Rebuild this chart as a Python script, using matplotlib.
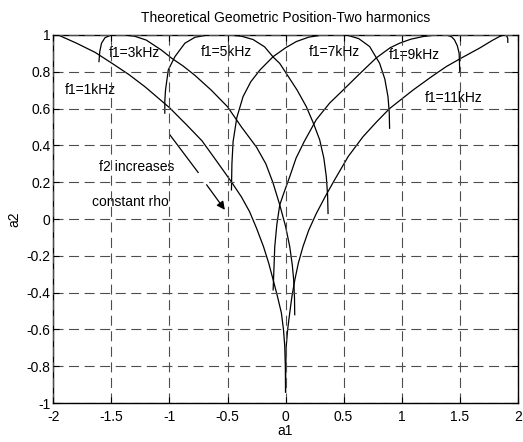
import matplotlib
matplotlib.use("Agg")
import matplotlib.pyplot as plt

# curves: (a1, a2) for each f1
a1_1k = [-1.96, -1.80, -1.64, -1.50, -1.35, -1.21, -1.00, -0.85, -0.72, -0.60, -0.47,
         -0.38, -0.31, -0.25, -0.19, -0.145, -0.107, -0.07, -0.036, -0.018, -0.007, -0.002, 0.0]
a2_1k = [1.00, 0.955, 0.905, 0.848, 0.785, 0.718, 0.605, 0.51, 0.425, 0.32, 0.205,
         0.12, 0.04, -0.05, -0.15, -0.24, -0.33, -0.42, -0.51, -0.60, -0.69, -0.80, -0.94]

a1_3k = [-1.607, -1.600, -1.585, -1.555, -1.50, -1.40, -1.30, -1.20, -1.07, -0.98, -0.88,
         -0.78, -0.64, -0.50, -0.38, -0.25, -0.17, -0.11, -0.05, 0.0, 0.036, 0.058, 0.07, 0.077, 0.079]
a2_3k = [0.855, 0.91, 0.955, 0.985, 1.0, 1.0, 0.993, 0.972, 0.918, 0.873, 0.83,
         0.78, 0.70, 0.61, 0.50, 0.39, 0.30, 0.20, 0.077, -0.04, -0.15, -0.25, -0.33, -0.43, -0.52]

a1_5k = [-1.04, -1.04, -1.034, -1.01, -0.953, -0.867, -0.781, -0.667, -0.50, -0.38, -0.28,
         -0.18, -0.107, -0.05, 0.007, 0.10, 0.179, 0.24, 0.294, 0.33, 0.351, 0.362, 0.366]
a2_5k = [0.575, 0.64, 0.70, 0.81, 0.882, 0.955, 0.987, 1.0, 1.0, 0.993, 0.975,
         0.935, 0.88, 0.845, 0.79, 0.70, 0.61, 0.52, 0.43, 0.33, 0.23, 0.13, 0.03]

a1_7k = [-0.466, -0.462, -0.452, -0.42, -0.366, -0.30, -0.22, -0.107, 0.0, 0.093, 0.20,
         0.323, 0.523, 0.63, 0.724, 0.81, 0.855, 0.882, 0.893, 0.896]
a2_7k = [0.158, 0.30, 0.42, 0.55, 0.665, 0.745, 0.81, 0.882, 0.93, 0.964, 0.988,
         1.0, 1.0, 0.98, 0.937, 0.846, 0.76, 0.665, 0.58, 0.493]

a1_9k = [-0.107, -0.10, -0.093, -0.075, -0.05, -0.01, 0.036, 0.09, 0.16, 0.265, 0.38,
         0.495, 0.64, 0.781, 0.90, 0.982, 1.08, 1.183, 1.30, 1.384, 1.43, 1.455, 1.48,
         1.495, 1.498, 1.50]
a2_9k = [-0.385, -0.27, -0.15, -0.03, 0.077, 0.15, 0.23, 0.33, 0.42, 0.54, 0.63,
         0.70, 0.79, 0.875, 0.93, 0.955, 0.977, 0.991, 1.0, 1.0, 0.99, 0.973, 0.94,
         0.90, 0.85, 0.80]

a1_11k = [0.0, 0.002, 0.006, 0.018, 0.036, 0.055, 0.08, 0.11, 0.15, 0.20, 0.265, 0.34,
          0.42, 0.54, 0.667, 0.78, 0.896, 1.097, 1.25, 1.384, 1.53, 1.67, 1.78, 1.842,
          1.88, 1.905, 1.914, 1.914]
a2_11k = [-0.94, -0.80, -0.69, -0.60, -0.51, -0.42, -0.33, -0.24, -0.15, -0.06, 0.03, 0.12,
          0.21, 0.34, 0.447, 0.525, 0.60, 0.70, 0.77, 0.828, 0.88, 0.928, 0.97, 0.991,
          1.0, 0.995, 0.98, 0.96]

curves = [(a1_1k, a2_1k), (a1_3k, a2_3k), (a1_5k, a2_5k),
          (a1_7k, a2_7k), (a1_9k, a2_9k), (a1_11k, a2_11k)]

labels = ["f1=1kHz", "f1=3kHz", "f1=5kHz", "f1=7kHz", "f1=9kHz", "f1=11kHz"]
label_x = [-1.90, -1.52, -0.73, 0.20, 0.89, 1.20]
label_y = [0.70, 0.90, 0.906, 0.906, 0.89, 0.656]

xticks = [-2, -1.5, -1, -0.5, 0, 0.5, 1, 1.5, 2]
xticklabels = ["-2", "-1.5", "-1", "-0.5", "0", "0.5", "1", "1.5", "2"]
yticks = [-1, -0.8, -0.6, -0.4, -0.2, 0, 0.2, 0.4, 0.6, 0.8, 1]
yticklabels = ["-1", "-0.8", "-0.6", "-0.4", "-0.2", "0", "0.2", "0.4", "0.6", "0.8", "1"]

plt.rcParams['font.family'] = ['Liberation Sans', 'DejaVu Sans']
plt.rcParams['font.size'] = 10

fig = plt.figure(figsize=(5.23, 4.42), dpi=100)
ax = fig.add_axes([0.102, 0.088, 0.888, 0.833])

for a1, a2 in curves:
    ax.plot(a1, a2, color='black', lw=0.9)

for txt, x, y in zip(labels, label_x, label_y):
    ax.text(x, y, txt, va='center', ha='left', zorder=2)

ax.text(-1.61, 0.28, "f2 increases", va='center', ha='left', zorder=2)
ax.text(-1.67, 0.095, "constant rho", va='center', ha='left', zorder=2)
ax.plot([-0.996, -0.753], [0.457, 0.253], color='black', lw=0.9)
ax.annotate("", xy=(-0.523, 0.05), xytext=(-0.68, 0.186),
            arrowprops=dict(arrowstyle='-|>', color='black', lw=0.9,
                            mutation_scale=12, shrinkA=0, shrinkB=0))

ax.set_xlim(-2, 2)
ax.set_ylim(-1, 1)
ax.set_xticks(xticks)
ax.set_xticklabels(xticklabels)
ax.set_yticks(yticks)
ax.set_yticklabels(yticklabels)
ax.tick_params(direction='in', length=4, top=True, right=True)
ax.tick_params(axis='x', pad=5)
ax.tick_params(axis='y', pad=2)
ax.set_axisbelow(False)
ax.grid(True, color='0.3', linestyle=(0, (9, 5)), lw=0.8)
for s in ax.spines.values():
    s.set_linewidth(1.0)

ax.set_title("Theoretical Geometric Position-Two harmonics", fontsize=10, pad=9)
ax.set_xlabel("a1", labelpad=0)
ax.set_ylabel("a2", labelpad=4)

fig.savefig("out.png", dpi=100)
